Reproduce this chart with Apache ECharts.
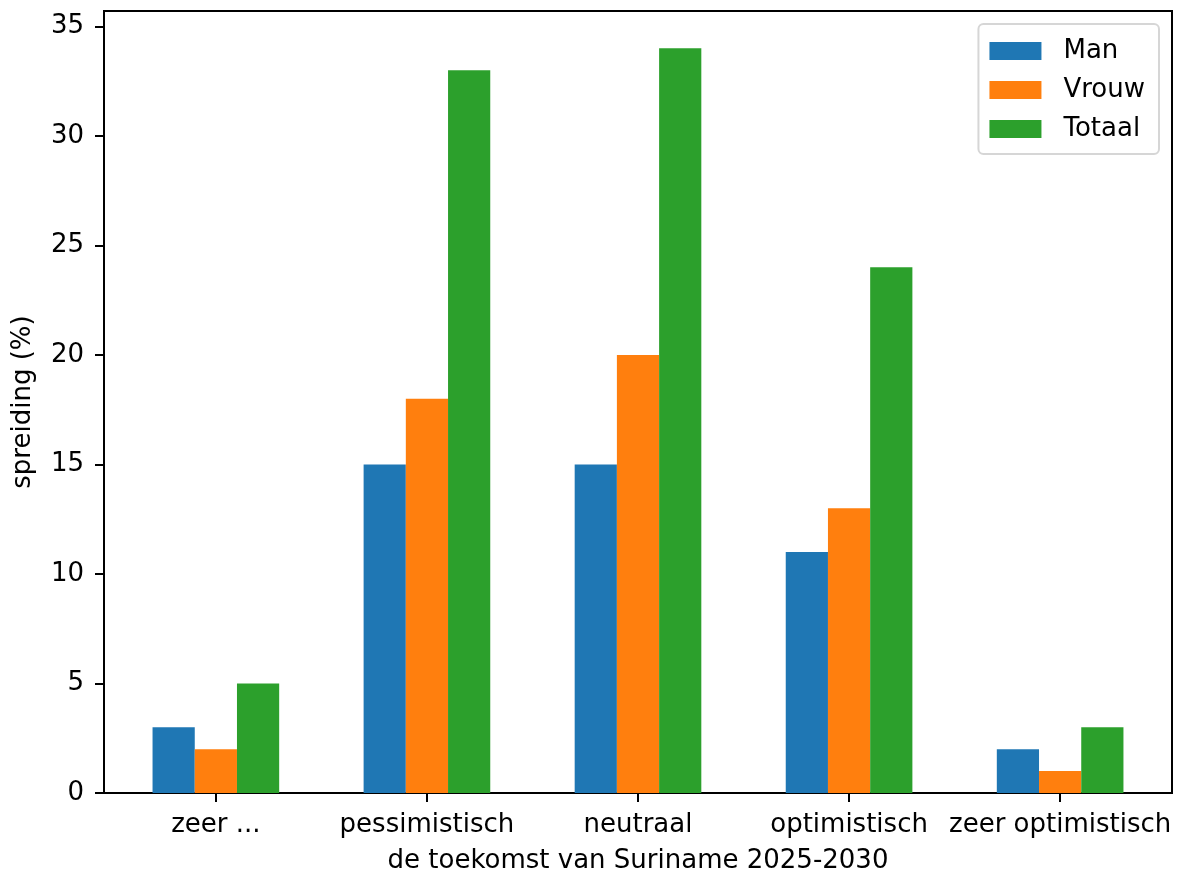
<!DOCTYPE html>
<html>
<head>
<meta charset="utf-8">
<script src="https://cdn.jsdelivr.net/npm/echarts@6/dist/echarts.min.js"></script>
<style>html,body{margin:0;padding:0;background:#fff;}#c{width:1179px;height:872px;}</style>
</head>
<body>
<div id="c"></div>
<script>
const categories = ['zeer ...', 'pessimistisch', 'neutraal', 'optimistisch', 'zeer optimistisch'];
const man = [3, 15, 15, 11, 2];
const vrouw = [2, 18, 20, 13, 1];
const totaal = [5, 33, 34, 24, 3];
const seriesNames = ['Man', 'Vrouw', 'Totaal'];
const yTicks = [0, 5, 10, 15, 20, 25, 30, 35];
const xLabel = 'de toekomst van Suriname 2025-2030';
const yLabel = 'spreiding (%)';

const colors = ['#1f77b4', '#ff7f0e', '#2ca02c'];
const allValues = [man, vrouw, totaal];
const barW = 0.2;
const FONT = 'DejaVu Sans';
const FS = 26;

function makeSeries(k) {
  const offset = (k - 1) * barW;
  return {
    type: 'custom',
    name: seriesNames[k],
    itemStyle: { color: colors[k] },
    data: allValues[k].map((v, i) => [i + offset, v]),
    renderItem: function (params, api) {
      const x = api.value(0), y = api.value(1);
      const p1 = api.coord([x - barW / 2, y]);
      const p2 = api.coord([x + barW / 2, 0]);
      return {
        type: 'rect',
        shape: { x: p1[0], y: p1[1], width: p2[0] - p1[0], height: p2[1] - p1[1] },
        style: { fill: colors[k] }
      };
    }
  };
}

const chart = echarts.init(document.getElementById('c'), null, { renderer: 'canvas' });
chart.setOption({
  animation: false,
  backgroundColor: '#fff',
  textStyle: { fontFamily: FONT, color: '#000' },
  grid: { left: 104, right: 7, top: 11, bottom: 79, show: true, borderColor: '#000', borderWidth: 2,
    containLabel: false, outerBoundsMode: 'none' },
  legend: {
    orient: 'vertical',
    right: 20, top: 24,
    padding: [14, 14, 12, 11],
    itemWidth: 52, itemHeight: 18, itemGap: 13,
    icon: 'rect',
    borderColor: '#d6d6d6', borderWidth: 2, borderRadius: 5,
    backgroundColor: '#fff',
    textStyle: { fontFamily: FONT, fontSize: FS, color: '#000', padding: [0, 0, 0, 17] },
    data: seriesNames
  },
  xAxis: {
    type: 'value', min: -0.53, max: 4.53,
    name: xLabel, nameLocation: 'middle', nameGap: 55,
    nameTextStyle: { fontFamily: FONT, fontSize: FS, color: '#000' },
    axisLine: { show: true, onZero: false, lineStyle: { color: '#000', width: 2 } },
    axisTick: { show: true, length: 9, lineStyle: { color: '#000', width: 2 }, customValues: [0, 1, 2, 3, 4] },
    axisLabel: { fontFamily: FONT, fontSize: FS, color: '#000', margin: 19, customValues: [0, 1, 2, 3, 4],
      formatter: v => categories[Math.round(v)] },
    splitLine: { show: false }
  },
  yAxis: {
    type: 'value', min: 0, max: 35.7,
    name: yLabel, nameLocation: 'middle', nameGap: 68, nameRotate: 90,
    nameTextStyle: { fontFamily: FONT, fontSize: FS, color: '#000' },
    axisLine: { show: true, onZero: false, lineStyle: { color: '#000', width: 2 } },
    axisTick: { show: true, length: 9, lineStyle: { color: '#000', width: 2 }, customValues: yTicks },
    axisLabel: { fontFamily: FONT, fontSize: FS, color: '#000', margin: 20, customValues: yTicks },
    splitLine: { show: false }
  },
  series: [0, 1, 2].map(makeSeries)
});
</script>
</body>
</html>
